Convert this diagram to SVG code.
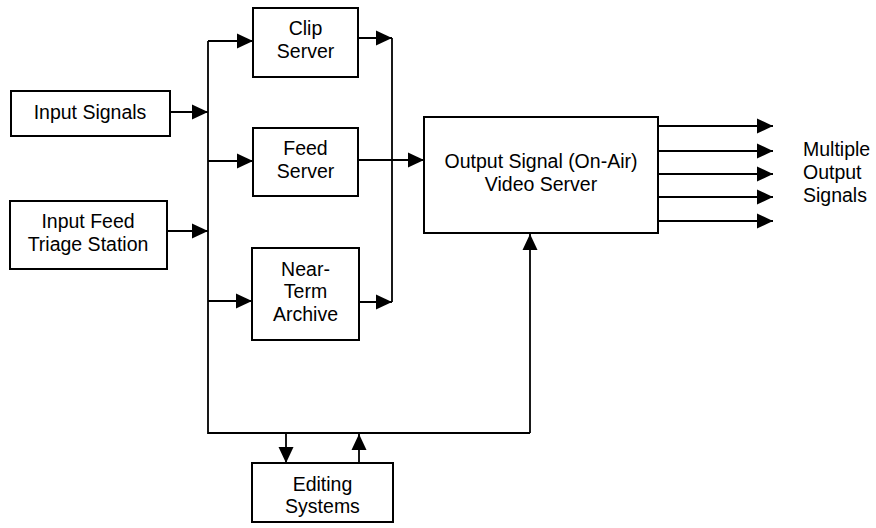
<svg xmlns="http://www.w3.org/2000/svg" width="876" height="528" viewBox="0 0 876 528">
<style>
.box{fill:#fff;stroke:#000;stroke-width:2}
.ln{fill:none;stroke:#000;stroke-width:1.8}
.arr{fill:none;stroke:#000;stroke-width:1.8;marker-end:url(#ah)}
text{font-family:"Liberation Sans",Arial,sans-serif;font-size:19.5px;fill:#000}
.c{text-anchor:middle}
</style>
<defs>
<marker id="ah" markerUnits="userSpaceOnUse" markerWidth="16" markerHeight="16" refX="16" refY="8" orient="auto">
<path d="M0,0.5 L16,8 L0,15.5 z" fill="#000"/>
</marker>
</defs>
<rect width="876" height="528" fill="#fff"/>
<g id="connectors">
<path class="ln" d="M208,41 V433 H530"/>
<path class="arr" d="M530,433 V234"/>
<path class="arr" d="M170,112 H208"/>
<path class="arr" d="M167,231 H208"/>
<path class="arr" d="M208,41 H253"/>
<path class="arr" d="M208,161 H253"/>
<path class="arr" d="M208,301 H252"/>
<path class="ln" d="M392,38 V302"/>
<path class="arr" d="M358,38 H392"/>
<path class="arr" d="M359,302 H392"/>
<path class="arr" d="M358,160 H424"/>
<path class="arr" d="M658,126 H773"/>
<path class="arr" d="M658,151 H773"/>
<path class="arr" d="M658,174 H773"/>
<path class="arr" d="M658,197 H773"/>
<path class="arr" d="M658,221 H773"/>
<path class="arr" d="M286,433 V463"/>
<path class="arr" d="M359,463 V434"/>
</g>
<g id="input-signals">
<rect class="box" x="11" y="91" width="159" height="45"/>
<text class="c" x="90" y="119">Input Signals</text>
</g>
<g id="input-feed-triage">
<rect class="box" x="10" y="201" width="157" height="68"/>
<text class="c" x="88" y="228">Input Feed</text>
<text class="c" x="88" y="251">Triage Station</text>
</g>
<g id="clip-server">
<rect class="box" x="253" y="8" width="105" height="69"/>
<text class="c" x="305.5" y="35">Clip</text>
<text class="c" x="305.5" y="58">Server</text>
</g>
<g id="feed-server">
<rect class="box" x="253" y="128" width="105" height="68"/>
<text class="c" x="305.5" y="155">Feed</text>
<text class="c" x="305.5" y="178">Server</text>
</g>
<g id="near-term-archive">
<rect class="box" x="252" y="248" width="107" height="92"/>
<text class="c" x="305.5" y="276">Near-</text>
<text class="c" x="305.5" y="298">Term</text>
<text class="c" x="305.5" y="321">Archive</text>
</g>
<g id="output-server">
<rect class="box" x="424" y="117" width="234" height="116"/>
<text class="c" x="541" y="168">Output Signal (On-Air)</text>
<text class="c" x="541" y="191">Video Server</text>
</g>
<g id="multiple-output-label">
<text x="803" y="156">Multiple</text>
<text x="803" y="179">Output</text>
<text x="803" y="202">Signals</text>
</g>
<g id="editing-systems">
<rect class="box" x="252" y="463" width="141" height="59"/>
<text class="c" x="322.5" y="491">Editing</text>
<text class="c" x="322.5" y="513">Systems</text>
</g>
</svg>
